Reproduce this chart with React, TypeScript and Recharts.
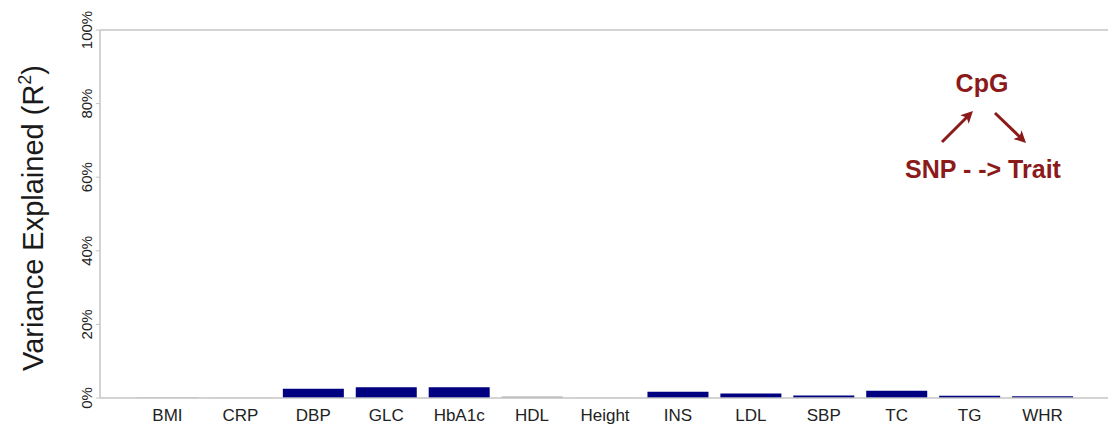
import React from "react";
import { BarChart, Bar, XAxis, YAxis, Cell, Label, ReferenceLine } from "recharts";

const categories = ["BMI", "CRP", "DBP", "GLC", "HbA1c", "HDL", "Height", "INS", "LDL", "SBP", "TC", "TG", "WHR"];
const varianceExplained = [0.15, 0.1, 2.5, 2.9, 2.9, 0.4, 0.05, 1.7, 1.2, 0.7, 2.0, 0.6, 0.5];
const significant = [false, false, true, true, true, false, false, true, true, true, true, true, true];
const yTicks = [0, 20, 40, 60, 80, 100];

const data = categories.map((c, i) => ({ trait: c, r2: varianceExplained[i], sig: significant[i] }));

const NAVY = "#000080";
const GRAYBAR = "#a8a8a8";
const FRAME = "#c4c4c4";
const RED = "#8b1a1a";
const FONT = "'Liberation Sans', Arial, Helvetica, sans-serif";

const YTick = (props: any) => {
  const { x, y, payload } = props;
  const bx = x - 2;
  return (
    <text
      x={bx}
      y={y}
      transform={`rotate(-90 ${bx} ${y})`}
      textAnchor="middle"
      fontSize={15}
      fill="#222"
      fontFamily={FONT}
    >
      {payload.value}%
    </text>
  );
};

const XTick = (props: any) => {
  const { x, y, payload } = props;
  return (
    <text x={x} y={y + 15} textAnchor="middle" fontSize={17} fill="#222" fontFamily={FONT}>
      {payload.value}
    </text>
  );
};

export default function App() {
  return (
    <div style={{ position: "absolute", left: 0, top: 0, width: 1117, height: 429, background: "#fff" }}>
      <BarChart
        width={1117}
        height={429}
        data={data}
        margin={{ top: 30, right: 9, bottom: 0, left: 0 }}
        barSize={61}
      >
        <XAxis
          dataKey="trait"
          xAxisId={0}
          padding={{ left: 31, right: 29 }}
          tickLine={false}
          axisLine={{ stroke: FRAME, strokeWidth: 1.5 }}
          tick={<XTick />}
          height={31}
          interval={0}
        />
        <YAxis
          yAxisId={0}
          domain={[0, 100]}
          ticks={yTicks}
          width={100}
          tickSize={4}
          tickLine={{ stroke: FRAME }}
          axisLine={{ stroke: FRAME, strokeWidth: 1.5 }}
          tick={<YTick />}
          interval={0}
        >
          <Label
            content={() => (
              <text
                x={43}
                y={218}
                transform="rotate(-90 43 218)"
                textAnchor="middle"
                fontSize={29}
                fill="#1a1a1a"
                fontFamily={FONT}
              >
                Variance Explained (R
                <tspan fontSize={18} dy={-12}>2</tspan>
                <tspan dy={12}>)</tspan>
              </text>
            )}
          />
        </YAxis>
        <YAxis
          yAxisId="right"
          orientation="right"
          domain={[0, 100]}
          width={0}
          tick={false}
          tickLine={false}
          axisLine={{ stroke: FRAME, strokeWidth: 1.5 }}
        />
        <ReferenceLine y={100} yAxisId={0} stroke={FRAME} strokeWidth={1.5} ifOverflow="visible" />
        <Bar dataKey="r2" xAxisId={0} yAxisId={0} isAnimationActive={false}>
          {data.map((d, i) => (
            <Cell key={i} fill={d.sig ? NAVY : GRAYBAR} />
          ))}
        </Bar>
      </BarChart>
      <svg
        width={1117}
        height={429}
        style={{ position: "absolute", left: 0, top: 0, pointerEvents: "none" }}
      >
        <defs>
          <marker id="ah" markerWidth="4" markerHeight="4" refX="2.6" refY="2" orient="auto" markerUnits="strokeWidth">
            <path d="M0,0 L4,2 L0,4 L1,2 Z" fill={RED} />
          </marker>
        </defs>
        <text x={982} y={92} textAnchor="middle" fontSize={25} fontWeight="bold" fill={RED} fontFamily={FONT}>
          CpG
        </text>
        <line x1={942} y1={142} x2={970} y2={114} stroke={RED} strokeWidth={3} markerEnd="url(#ah)" />
        <line x1={995} y1={113} x2={1023} y2={140} stroke={RED} strokeWidth={3} markerEnd="url(#ah)" />
        <text x={983} y={178} textAnchor="middle" fontSize={25} fontWeight="bold" fill={RED} fontFamily={FONT}>
          SNP - -&gt; Trait
        </text>
      </svg>
    </div>
  );
}
